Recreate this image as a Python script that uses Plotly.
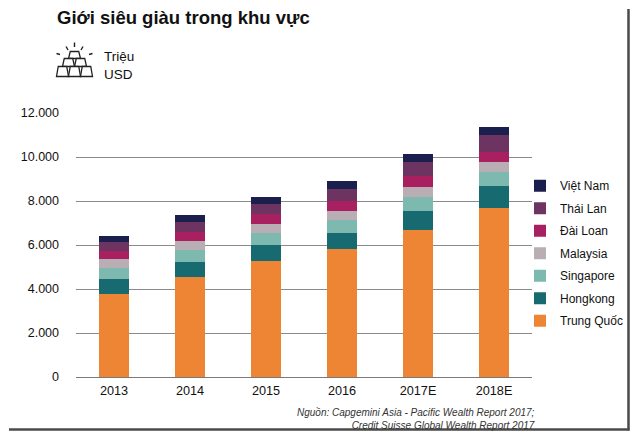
import plotly.graph_objects as go

years = ["2013", "2014", "2015", "2016", "2017E", "2018E"]
trung_quoc = [3780, 4530, 5270, 5800, 6680, 7690]
hongkong = [660, 680, 740, 760, 880, 970]
singapore = [500, 550, 530, 565, 625, 640]
malaysia = [410, 440, 425, 435, 455, 455]
dai_loan = [380, 410, 425, 455, 515, 475]
thai_lan = [395, 440, 475, 535, 635, 755]
viet_nam = [300, 335, 320, 350, 340, 385]

series = [
    ("Trung Quốc", trung_quoc, "#EE8535"),
    ("Hongkong", hongkong, "#176A70"),
    ("Singapore", singapore, "#7DB9AF"),
    ("Malaysia", malaysia, "#B9AEB4"),
    ("Đài Loan", dai_loan, "#A8205F"),
    ("Thái Lan", thai_lan, "#6E3461"),
    ("Việt Nam", viet_nam, "#1B1F4E"),
]

# the page body adds an 8px offset, so the figure fills the window from (8, 8)
W, H = 632, 424
ML, MR, MT, MB = 68, 108, 105, 55
PW, PH = W - ML - MR, H - MT - MB
SX0, SY0 = 76, 377  # screen position of plot origin (left, bottom)


def px(x):
    return (x - SX0) / PW


def py(y):
    return (SY0 - y) / PH


fig = go.Figure()
n = len(series)
for i, (name, vals, col) in enumerate(series):
    fig.add_trace(go.Bar(
        x=years, y=vals, name=name, legendgroup=name, legendrank=n - i,
        marker=dict(color=col, line=dict(width=0)),
        hoverinfo="skip",
    ))

FONT = "Liberation Sans, Arial, sans-serif"

shapes = []
# frame (right and bottom edges, the parts inside the visible page)
shapes.append(dict(type="line", xref="paper", yref="paper",
                   x0=px(628.5), x1=px(628.5), y0=py(9), y1=py(430.5),
                   line=dict(color="#4a4a4a", width=2.5), layer="above"))
shapes.append(dict(type="line", xref="paper", yref="paper",
                   x0=px(9), x1=px(629.5), y0=py(429.5), y1=py(429.5),
                   line=dict(color="#4a4a4a", width=2.5), layer="above"))


def path(points, close=True):
    s = "M " + " L ".join(f"{px(a):.5f},{py(b):.5f}" for a, b in points)
    if close:
        s += " Z"
    return s


def bar_shape(cx, ytop, ybot, wtop, wbot):
    return [(cx - wtop / 2, ytop), (cx + wtop / 2, ytop), (cx + wbot / 2, ybot), (cx - wbot / 2, ybot)]


rows = [
    (51.5, 58.5, [74.5]),
    (58.5, 66.5, [68.5, 80.5]),
    (66.5, 76.5, [62.5, 74.5, 86.5]),
]
for ytop, ybot, centers in rows:
    for c in centers:
        shapes.append(dict(type="path", xref="paper", yref="paper",
                           path=path(bar_shape(c, ytop, ybot, 8.5, 12)),
                           line=dict(color="#222", width=1.3), fillcolor="white"))
rays = [((74.5, 42.5), (74.5, 47)), ((66, 46.5), (68, 50)), ((83, 46.5), (81, 50)),
        ((56.5, 53.5), (60, 54.5)), ((92.5, 53.5), (89, 54.5))]
for a, b in rays:
    shapes.append(dict(type="path", xref="paper", yref="paper", path=path([a, b], close=False),
                       line=dict(color="#222", width=1.4)))

annotations = [
    dict(text="<b>Giới siêu giàu trong khu vực</b>", x=px(55), y=py(25), xref="paper", yref="paper",
         xanchor="left", yanchor="bottom", showarrow=False,
         font=dict(family=FONT, size=18.5, color="#111"), yshift=-5),
    dict(text="Triệu<br>USD", x=px(102), y=py(47), xref="paper", yref="paper",
         xanchor="left", yanchor="top", showarrow=False, align="left",
         font=dict(family=FONT, size=13.5, color="#111")),
    dict(text="<i>Nguồn: Capgemini Asia - Pacific Wealth Report 2017;<br>Credit Suisse Global Wealth Report 2017</i>",
         x=px(537), y=py(405), xref="paper", yref="paper",
         xanchor="right", yanchor="top", showarrow=False, align="right",
         font=dict(family=FONT, size=10, color="#333")),
]

fig.update_layout(
    width=W, height=H,
    margin=dict(l=ML, r=MR, t=MT, b=MB, pad=0),
    barmode="stack", bargap=0.605,
    paper_bgcolor="white", plot_bgcolor="white",
    font=dict(family=FONT, size=12.5, color="#111"),
    showlegend=True,
    legend=dict(x=px(520), y=py(171.3), xanchor="left", yanchor="top",
                traceorder="grouped", tracegroupgap=3.5,
                font=dict(family=FONT, size=12, color="#111"),
                bgcolor="rgba(0,0,0,0)", borderwidth=0),
    shapes=shapes,
    annotations=annotations,
    xaxis=dict(showgrid=False, showline=True, linecolor="#7a7a7a", linewidth=1.2,
               ticks="", ticklabelstandoff=2,
               tickfont=dict(family=FONT, size=12.7, color="#111"), fixedrange=True),
    yaxis=dict(range=[0, 12000], tickvals=[0, 2000, 4000, 6000, 8000, 10000, 12000],
               ticktext=["0", "2.000", "4.000", "6.000", "8.000", "10.000", "12.000"],
               showgrid=True, gridcolor="#8a8a8a", gridwidth=1, zeroline=False,
               showline=False, ticks="", ticklabelstandoff=16,
               tickfont=dict(family=FONT, size=12.5, color="#111"), fixedrange=True),
)

fig.write_html("out.html", config={"displayModeBar": False})
